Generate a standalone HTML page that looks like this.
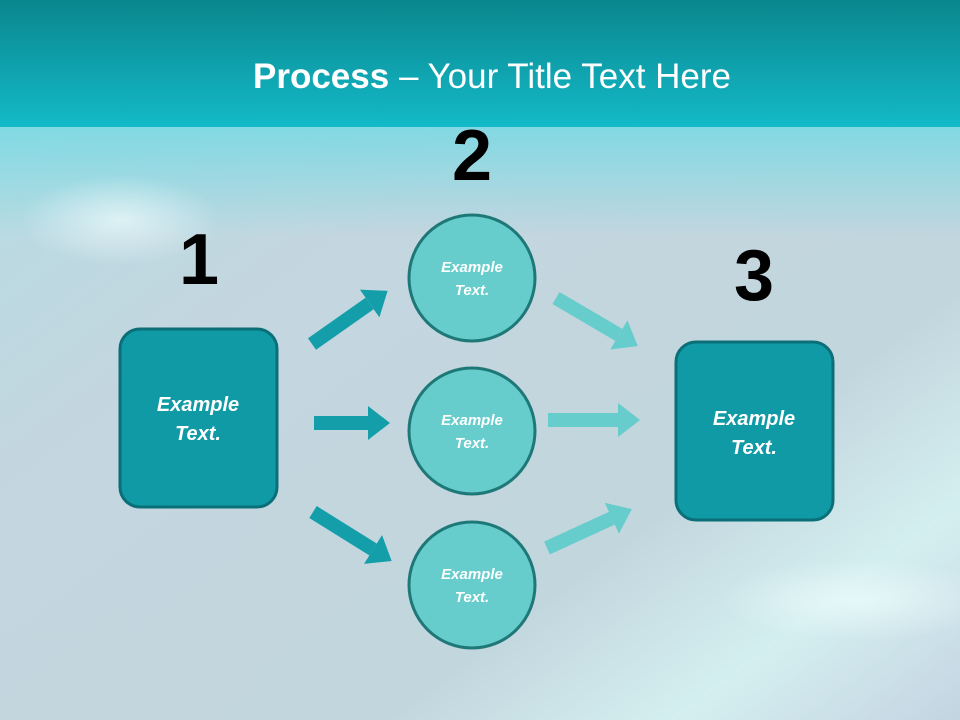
<!DOCTYPE html>
<html><head><meta charset="utf-8"><style>
html,body{margin:0;padding:0;width:960px;height:720px;overflow:hidden}
</style></head><body>
<svg width="960" height="720" viewBox="0 0 960 720" xmlns="http://www.w3.org/2000/svg" font-family="'Liberation Sans', sans-serif">
<defs>
<linearGradient id="hd" x1="0" y1="0" x2="0" y2="1">
<stop offset="0" stop-color="#0a868e"/><stop offset="1" stop-color="#13bac8"/></linearGradient>
<linearGradient id="bg" x1="0" y1="0" x2="1" y2="1">
<stop offset="0" stop-color="#b3dde5"/><stop offset="0.35" stop-color="#c4d6df"/>
<stop offset="0.7" stop-color="#c2d6de"/><stop offset="0.85" stop-color="#d4eff0"/><stop offset="1" stop-color="#c4d4e2"/></linearGradient>
<linearGradient id="fade" x1="0" y1="0" x2="0" y2="1">
<stop offset="0" stop-color="#7ad9e3" stop-opacity="0.9"/><stop offset="1" stop-color="#7ad9e3" stop-opacity="0"/></linearGradient>
<radialGradient id="glow" cx="0.5" cy="0.5" r="0.5"><stop offset="0" stop-color="#eefcfd" stop-opacity="0.7"/><stop offset="1" stop-color="#eefcfd" stop-opacity="0"/></radialGradient>
<marker id="hd1" markerUnits="userSpaceOnUse" markerWidth="24" markerHeight="34" refX="0" refY="17" orient="auto" viewBox="0 0 24 34"><path d="M0,0 L22,17 L0,34 Z" fill="#139ea9"/></marker>
<marker id="hd2" markerUnits="userSpaceOnUse" markerWidth="24" markerHeight="34" refX="0" refY="17" orient="auto" viewBox="0 0 24 34"><path d="M0,0 L22,17 L0,34 Z" fill="#66cccc"/></marker>
</defs>
<rect width="960" height="720" fill="url(#bg)"/>
<rect y="127" width="960" height="110" fill="url(#fade)"/>
<ellipse cx="120" cy="220" rx="100" ry="45" fill="url(#glow)"/>
<ellipse cx="860" cy="600" rx="140" ry="40" fill="url(#glow)"/>
<rect width="960" height="127" fill="url(#hd)"/>
<text x="492" y="88" text-anchor="middle" font-size="35" fill="#fff"><tspan font-weight="bold">Process</tspan> – Your Title Text Here</text>
<g font-weight="bold" font-size="72" fill="#000" text-anchor="middle">
<text x="199" y="284">1</text><text x="472" y="180">2</text><text x="754" y="300">3</text></g>
<g stroke-width="14">
<line x1="312" y1="344" x2="369.6" y2="303.5" stroke="#139ea9" marker-end="url(#hd1)"/>
<line x1="314" y1="423" x2="368" y2="423" stroke="#139ea9" marker-end="url(#hd1)"/>
<line x1="313" y1="512" x2="373" y2="549.4" stroke="#139ea9" marker-end="url(#hd1)"/>
<line x1="556" y1="298" x2="618.8" y2="334.9" stroke="#66cccc" marker-end="url(#hd2)"/>
<line x1="548" y1="420" x2="618" y2="420" stroke="#66cccc" marker-end="url(#hd2)"/>
<line x1="547" y1="548" x2="611.8" y2="518.3" stroke="#66cccc" marker-end="url(#hd2)"/>
</g>
<rect x="120" y="329" width="157" height="178" rx="20" fill="#0f9aa6" stroke="#0b6f78" stroke-width="3"/>
<rect x="676" y="342" width="157" height="178" rx="20" fill="#0f9aa6" stroke="#0b6f78" stroke-width="3"/>
<g fill="#66cccc" stroke="#1f7878" stroke-width="3">
<circle cx="472" cy="278" r="63"/><circle cx="472" cy="431" r="63"/><circle cx="472" cy="585" r="63"/></g>
<g fill="#fff" font-weight="bold" font-style="italic" text-anchor="middle">
<text font-size="20" x="198" y="411">Example</text><text font-size="20" x="198" y="440">Text.</text>
<text font-size="20" x="754" y="425">Example</text><text font-size="20" x="754" y="454">Text.</text>
<text font-size="15" x="472" y="272">Example</text><text font-size="15" x="472" y="295">Text.</text>
<text font-size="15" x="472" y="425">Example</text><text font-size="15" x="472" y="448">Text.</text>
<text font-size="15" x="472" y="579">Example</text><text font-size="15" x="472" y="602">Text.</text>
</g>
</svg>
</body></html>
